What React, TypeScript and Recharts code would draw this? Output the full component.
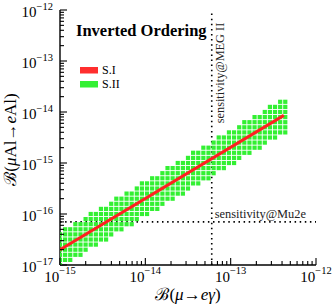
import React from 'react';
import { ComposedChart, Scatter, XAxis, YAxis, ReferenceLine, Legend } from 'recharts';

// ---- axis ticks ----
const xMajorTicks = [1e-15, 1e-14, 1e-13, 1e-12];
const yMajorTicks = [1e-17, 1e-16, 1e-15, 1e-14, 1e-13, 1e-12];
const minorMultipliers = [2, 3, 4, 5, 6, 7, 8, 9];

// ---- S.II scan (green mesh): column positions in log10 B(mu->e gamma),
// lowest and highest filled lattice rows in log10 B(mu Al -> e Al) ----
const s2ColumnLogX = [
  -15.0, -14.94, -14.88, -14.82, -14.76, -14.7, -14.64, -14.58, -14.52, -14.46,
  -14.4, -14.34, -14.28, -14.22, -14.16, -14.1, -14.04, -13.98, -13.92, -13.86,
  -13.8, -13.74, -13.68, -13.62, -13.56, -13.5, -13.44, -13.38, -13.32, -13.26,
  -13.2, -13.14, -13.08, -13.02, -12.96, -12.9, -12.84, -12.78, -12.72, -12.66,
  -12.6, -12.54, -12.48, -12.42, -12.36,
];
const s2ColumnLowLogY = [
  -17.0, -16.9, -16.9, -16.8, -16.8, -16.7, -16.6, -16.6, -16.5, -16.5,
  -16.4, -16.3, -16.3, -16.2, -16.2, -16.1, -16.0, -16.0, -15.9, -15.9,
  -15.8, -15.7, -15.7, -15.6, -15.6, -15.5, -15.4, -15.4, -15.3, -15.3,
  -15.2, -15.1, -15.1, -15.0, -15.0, -14.9, -14.8, -14.8, -14.7, -14.7,
  -14.6, -14.5, -14.5, -14.4, -14.4,
];
const s2ColumnHighLogY = [
  -16.4, -16.3, -16.3, -16.2, -16.2, -16.1, -16.0, -16.0, -15.9, -15.9,
  -15.8, -15.7, -15.7, -15.6, -15.6, -15.5, -15.4, -15.4, -15.3, -15.3,
  -15.2, -15.1, -15.1, -15.0, -15.0, -14.9, -14.8, -14.8, -14.7, -14.7,
  -14.6, -14.5, -14.5, -14.4, -14.4, -14.3, -14.2, -14.2, -14.1, -14.1,
  -14.0, -13.9, -13.9, -13.8, -13.8,
];

// ---- S.I (red line) ----
const s1Line = [
  { x: 1e-15, y: 2.0e-17 },
  { x: 4.2e-13, y: 8.6e-15 },
];

// ---- experimental sensitivities ----
const megSensitivity = 6e-14;
const mu2eSensitivity = 7e-17;

const legendItems = [
  { label: 'S.I', color: '#ff2e2e' },
  { label: 'S.II', color: '#33f033' },
];
const titleText = 'Inverted Ordering';

// ---- derived tables ----
const buildTicks = (majors: number[]) => {
  const out: number[] = [];
  majors.forEach((m, i) => {
    out.push(m);
    if (i < majors.length - 1) minorMultipliers.forEach((k) => out.push(k * m));
  });
  return out;
};
const xTicks = buildTicks(xMajorTicks);
const yTicks = buildTicks(yMajorTicks);

const s2Points: { x: number; y: number }[] = [];
s2ColumnLogX.forEach((lx, i) => {
  const lo = Math.round(s2ColumnLowLogY[i] * 10);
  const hi = Math.round(s2ColumnHighLogY[i] * 10);
  for (let r = lo; r <= hi; r++) s2Points.push({ x: Math.pow(10, lx), y: Math.pow(10, r / 10) });
});

const FONT = "'Liberation Serif', 'Times New Roman', 'DejaVu Serif', serif";

const isMajor = (v: number) => Math.abs(Math.log10(v) - Math.round(Math.log10(v))) < 1e-6;
const expOf = (v: number) => Math.round(Math.log10(v));

const MAJOR = 7;
const MINOR = 4;

const makeTick = (side: 'bottom' | 'top' | 'left' | 'right') => (props: any) => {
  const { x, y, payload } = props;
  const v = payload.value;
  const major = isMajor(v);
  const len = major ? MAJOR : MINOR;
  let line;
  if (side === 'bottom') line = <line x1={x} x2={x} y1={y} y2={y - len} stroke="#000" strokeWidth={1.1} />;
  else if (side === 'top') line = <line x1={x} x2={x} y1={y} y2={y + len} stroke="#000" strokeWidth={1.1} />;
  else if (side === 'left') line = <line x1={x} x2={x + len} y1={y} y2={y} stroke="#000" strokeWidth={1.1} />;
  else line = <line x1={x} x2={x - len} y1={y} y2={y} stroke="#000" strokeWidth={1.1} />;
  let label = null;
  if (major && side === 'bottom') {
    label = (
      <text x={x} y={y + 17} textAnchor="middle" fontFamily={FONT} fontSize={15} fill="#000">
        10<tspan dy={-8} fontSize={10.5}>{'\u2212' + Math.abs(expOf(v))}</tspan>
      </text>
    );
  } else if (major && side === 'left') {
    label = (
      <text x={x - 7} y={y + 7} textAnchor="end" fontFamily={FONT} fontSize={15} fill="#000">
        10<tspan dy={-7} fontSize={10.5}>{'\u2212' + Math.abs(expOf(v))}</tspan>
      </text>
    );
  }
  return (
    <g>
      {line}
      {label}
    </g>
  );
};

const XLabel = (props: any) => {
  const vb = props.viewBox || {};
  return (
    <text x={vb.x + vb.width / 2} y={vb.y + 35} textAnchor="middle" fontFamily={FONT} fontSize={17} fill="#000">
      {'\u212C('}
      <tspan fontStyle="italic">{'\u03BC'}</tspan>
      {'\u2192'}
      <tspan fontStyle="italic">e</tspan>
      <tspan fontStyle="italic">{'\u03B3'}</tspan>
      {')'}
    </text>
  );
};

const YLabel = (props: any) => {
  const vb = props.viewBox || {};
  const cx = vb.x + 16;
  const cy = vb.y + vb.height / 2 + 2;
  return (
    <text transform={`translate(${cx},${cy}) rotate(-90)`} textAnchor="middle" fontFamily={FONT} fontSize={17} fill="#000">
      {'\u212C('}
      <tspan fontStyle="italic">{'\u03BC'}</tspan>
      {'Al\u2192'}
      <tspan fontStyle="italic">e</tspan>
      {'Al)'}
    </text>
  );
};

const MegLabel = (props: any) => {
  const vb = props.viewBox || {};
  const cx = vb.x + 12.5;
  const cy = vb.y + 63;
  return (
    <text transform={`translate(${cx},${cy}) rotate(-90)`} textAnchor="middle" fontFamily={FONT} fontSize={12.3} fill="#222">
      sensitivity@MEG II
    </text>
  );
};

const Mu2eLabel = (props: any) => {
  const vb = props.viewBox || {};
  return (
    <text x={vb.x + vb.width - 10} y={vb.y - 3.5} textAnchor="end" fontFamily={FONT} fontSize={12.4} fill="#222">
      sensitivity@Mu2e
    </text>
  );
};

const renderLegend = () => (
  <svg width={170} height={80} style={{ display: 'block' }}>
    <text x={16} y={21} fontFamily={FONT} fontSize={16.5} fontWeight="bold" fill="#000">
      {titleText}
    </text>
    {legendItems.map((it, i) => (
      <g key={it.label}>
        <rect x={20} y={52 + i * 14} width={18} height={6.5} fill={it.color} />
        <text x={42} y={59 + i * 14} fontFamily={FONT} fontSize={12} fill="#000">
          {it.label}
        </text>
      </g>
    ))}
  </svg>
);

const GreenSquare = (props: any) => {
  const { cx, cy } = props;
  if (cx == null || cy == null) return <g />;
  return <rect x={cx - 2.1} y={cy - 2.1} width={4.2} height={4.2} fill="#33f033" />;
};

const axisLine = { stroke: '#000', strokeWidth: 1.4 };

export default function App() {
  return (
    <div style={{ position: 'absolute', left: 0, top: 0, background: '#fff' }}>
      <ComposedChart width={332} height={307} margin={{ top: 10, right: 16, bottom: 0, left: 0 }}>
        <XAxis
          xAxisId="b"
          type="number"
          dataKey="x"
          scale="log"
          domain={[1e-15, 1e-12]}
          allowDataOverflow
          ticks={xTicks}
          interval={0}
          tickSize={0}
          tickMargin={0}
          tickLine={false}
          axisLine={axisLine}
          tick={makeTick('bottom')}
          height={42}
          label={<XLabel />}
        />
        <XAxis
          xAxisId="t"
          orientation="top"
          type="number"
          dataKey="x"
          scale="log"
          domain={[1e-15, 1e-12]}
          allowDataOverflow
          ticks={xTicks}
          interval={0}
          tickSize={0}
          tickMargin={0}
          tickLine={false}
          axisLine={axisLine}
          tick={makeTick('top')}
          height={0}
        />
        <YAxis
          yAxisId="l"
          type="number"
          dataKey="y"
          scale="log"
          domain={[1e-17, 1e-12]}
          allowDataOverflow
          ticks={yTicks}
          interval={0}
          tickSize={0}
          tickMargin={0}
          tickLine={false}
          axisLine={axisLine}
          tick={makeTick('left')}
          width={60}
          label={<YLabel />}
        />
        <YAxis
          yAxisId="r"
          orientation="right"
          type="number"
          dataKey="y"
          scale="log"
          domain={[1e-17, 1e-12]}
          allowDataOverflow
          ticks={yTicks}
          interval={0}
          tickSize={0}
          tickMargin={0}
          tickLine={false}
          axisLine={axisLine}
          tick={makeTick('right')}
          width={0}
        />
        <Scatter
          name="S.II"
          xAxisId="b"
          yAxisId="l"
          data={s2Points}
          fill="#33f033"
          shape={<GreenSquare />}
          isAnimationActive={false}
        />
        <Scatter
          name="S.I"
          xAxisId="b"
          yAxisId="l"
          data={s1Line}
          fill="#ff2e2e"
          line={{ stroke: '#ff2020', strokeWidth: 3 }}
          shape={() => <g />}
          isAnimationActive={false}
        />
        <ReferenceLine
          xAxisId="b"
          yAxisId="l"
          x={megSensitivity}
          stroke="#000"
          strokeWidth={1.6}
          strokeDasharray="1.5 3.6"
          label={<MegLabel />}
        />
        <ReferenceLine
          xAxisId="b"
          yAxisId="l"
          y={mu2eSensitivity}
          stroke="#000"
          strokeWidth={1.6}
          strokeDasharray="1.5 3.6"
          label={<Mu2eLabel />}
        />
        <Legend
          layout="vertical"
          align="center"
          verticalAlign="middle"
          wrapperStyle={{ left: 60, top: 15, width: 170, height: 80 }}
          content={renderLegend}
        />
      </ComposedChart>
    </div>
  );
}
